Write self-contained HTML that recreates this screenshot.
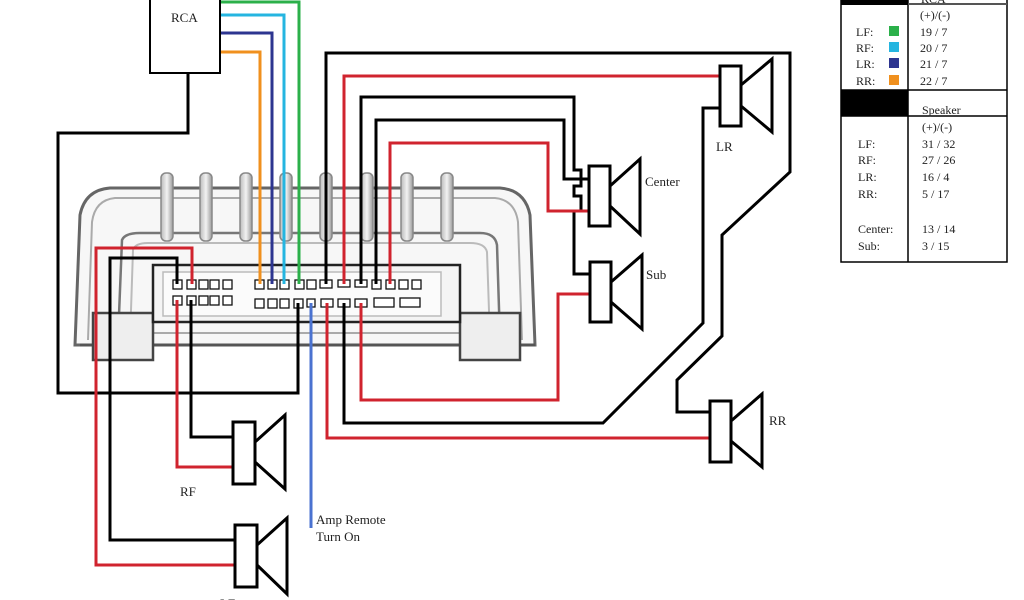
<!DOCTYPE html>
<html><head><meta charset="utf-8"><style>
html,body{margin:0;padding:0;background:#fff;width:1024px;height:600px;overflow:hidden}
svg{display:block}
text{font-family:"Liberation Serif",serif;fill:#222}
</style></head><body>
<svg width="1024" height="600" viewBox="0 0 1024 600" xmlns="http://www.w3.org/2000/svg">
<defs>
<linearGradient id="fin" x1="0" x2="1" y1="0" y2="0">
<stop offset="0" stop-color="#bbb"/><stop offset="0.5" stop-color="#f2f2f2"/><stop offset="1" stop-color="#999"/>
</linearGradient>
</defs>
<!-- amplifier body -->
<g fill="none" stroke-width="2">
<path d="M75,345 L80,215 Q85,190 110,188 L500,188 Q525,190 530,215 L535,345 Z" fill="#f7f7f7" stroke="#666" stroke-width="3"/>
<path d="M88,340 L92,222 Q95,200 115,198 L495,198 Q515,200 518,222 L522,340" stroke="#aaa"/>
<path d="M118,340 L122,240 Q125,233 140,233 L480,233 Q495,233 497,245 L500,340" stroke="#777" stroke-width="2.5"/>
<path d="M130,340 L133,250 Q135,243 148,243 L470,243 Q485,243 487,252 L490,340" stroke="#bbb"/>
<path d="M80,345 L535,345" stroke="#555" stroke-width="3"/>
<path d="M110,333 L505,333" stroke="#aaa"/>
</g>
<g fill="url(#fin)" stroke="#888" stroke-width="1.5">
<rect x="161" y="173" width="12" height="68" rx="5"/>
<rect x="200" y="173" width="12" height="68" rx="5"/>
<rect x="240" y="173" width="12" height="68" rx="5"/>
<rect x="280" y="173" width="12" height="68" rx="5"/>
<rect x="320" y="173" width="12" height="68" rx="5"/>
<rect x="361" y="173" width="12" height="68" rx="5"/>
<rect x="401" y="173" width="12" height="68" rx="5"/>
<rect x="441" y="173" width="12" height="68" rx="5"/>
</g>
<rect x="93" y="313" width="60" height="47" fill="#eee" stroke="#444" stroke-width="2.5"/>
<rect x="460" y="313" width="60" height="47" fill="#eee" stroke="#444" stroke-width="2.5"/>
<rect x="153" y="265" width="307" height="57" fill="#f4f4f4" stroke="#222" stroke-width="2.5"/>
<rect x="163" y="272" width="278" height="44" fill="#fbfbfb" stroke="#bbb" stroke-width="1.5"/>
<!-- connector pins -->
<g fill="#fff" stroke="#111" stroke-width="1.3">
<rect x="173" y="280" width="9" height="9"/><rect x="187" y="280" width="9" height="9"/><rect x="199" y="280" width="9" height="9"/><rect x="210" y="280" width="9" height="9"/><rect x="223" y="280" width="9" height="9"/>
<rect x="173" y="296" width="9" height="9"/><rect x="187" y="296" width="9" height="9"/><rect x="199" y="296" width="9" height="9"/><rect x="210" y="296" width="9" height="9"/><rect x="223" y="296" width="9" height="9"/>
<rect x="255" y="280" width="9" height="9"/><rect x="268" y="280" width="9" height="9"/><rect x="280" y="280" width="9" height="9"/><rect x="295" y="280" width="9" height="9"/><rect x="307" y="280" width="9" height="9"/><rect x="320" y="280" width="12" height="8"/><rect x="338" y="280" width="12" height="7"/><rect x="355" y="280" width="12" height="7"/><rect x="372" y="280" width="9" height="9"/><rect x="386" y="280" width="9" height="9"/><rect x="399" y="280" width="9" height="9"/><rect x="412" y="280" width="9" height="9"/>
<rect x="255" y="299" width="9" height="9"/><rect x="268" y="299" width="9" height="9"/><rect x="280" y="299" width="9" height="9"/><rect x="294" y="299" width="9" height="9"/><rect x="307" y="299" width="8" height="8"/><rect x="321" y="299" width="12" height="8"/><rect x="338" y="299" width="12" height="8"/><rect x="355" y="299" width="12" height="8"/><rect x="374" y="298" width="20" height="9"/><rect x="400" y="298" width="20" height="9"/>
</g>
<!-- wires -->
<g fill="none" stroke-width="3" stroke-linejoin="miter">
<path d="M220,2 L299,2 L299,284" stroke="#2bb04a"/>
<path d="M220,15 L284,15 L284,284" stroke="#25b5e0"/>
<path d="M220,33 L272,33 L272,284" stroke="#2d3590"/>
<path d="M220,52 L260,52 L260,284" stroke="#f0901e"/>
<path d="M188,73 L188,133 L58,133 L58,393 L298,393 L298,303" stroke="#000"/>
<path d="M311,303 L311,528" stroke="#4a72d0"/>
<path d="M327,303 L327,438 L712,438" stroke="#d0232e"/>
<path d="M344,303 L344,423 L603,423 L703,323 L703,108 L720,108" stroke="#000"/>
<path d="M361,303 L361,400 L558,400 L558,294 L590,294" stroke="#d0232e"/>
<path d="M326,284 L326,53 L790,53 L790,172 L722,235 L722,336 L677,380 L677,412 L712,412" stroke="#000"/>
<path d="M344,284 L344,76 L720,76" stroke="#d0232e"/>
<path d="M361,284 L361,97 L574,97 L574,170 L581,170 L581,186 L574,186 L574,196 L581,196 L581,211 L574,211 L574,274 L590,274" stroke="#000"/>
<path d="M376,284 L376,120 L564,120 L564,179 L590,179" stroke="#000"/>
<path d="M390,284 L390,143 L548,143 L548,211 L590,211" stroke="#d0232e"/>
<path d="M192,284 L192,248 L96,248 L96,565 L237,565" stroke="#d0232e"/>
<path d="M177,284 L177,258 L110,258 L110,540 L237,540" stroke="#000"/>
<path d="M177,300 L177,467 L235,467" stroke="#d0232e"/>
<path d="M191,300 L191,437 L235,437" stroke="#000"/>
</g>
<!-- RCA box -->
<rect x="150" y="-2" width="70" height="75" fill="#fff" stroke="#000" stroke-width="2"/>
<text x="171" y="22" font-size="13">RCA</text>
<!-- speakers -->
<g fill="#fff" stroke="#000" stroke-width="3">
<rect x="720" y="66" width="21" height="60"/><path d="M741,85 L772,59 L772,132 L741,106" fill="none"/>
<rect x="589" y="166" width="21" height="60"/><path d="M610,186 L640,159 L640,234 L610,206" fill="none"/>
<rect x="590" y="262" width="21" height="60"/><path d="M611,282 L642,255 L642,329 L611,302" fill="none"/>
<rect x="710" y="401" width="21" height="61"/><path d="M731,421 L762,394 L762,467 L731,441" fill="none"/>
<rect x="233" y="422" width="22" height="62"/><path d="M255,442 L285,415 L285,489 L255,462" fill="none"/>
<rect x="235" y="525" width="22" height="62"/><path d="M257,545 L287,518 L287,594 L257,565" fill="none"/>
</g>
<g font-size="13">
<text x="645" y="186">Center</text>
<text x="646" y="279">Sub</text>
<text x="716" y="151">LR</text>
<text x="769" y="425">RR</text>
<text x="180" y="496">RF</text>
<text x="316" y="524">Amp Remote</text>
<text x="316" y="541">Turn On</text>
<text x="220" y="608">LF</text>
</g>
<!-- table -->
<g stroke="#000" fill="none">
<rect x="841" y="-2" width="166" height="264" stroke-width="1.5"/>
<line x1="908" y1="0" x2="908" y2="262" stroke-width="1.5"/>
<line x1="908" y1="4" x2="1007" y2="4" stroke="#555" stroke-width="2"/>
<line x1="841" y1="90" x2="1007" y2="90" stroke-width="1.5"/>
<line x1="841" y1="116" x2="1007" y2="116" stroke-width="1.5"/>
</g>
<rect x="841" y="0" width="67" height="5" fill="#000"/>
<rect x="841" y="90" width="67" height="26" fill="#000"/>
<text x="921" y="3" font-size="12">RCA</text>
<g font-size="12">
<text x="920" y="19">(+)/(-)</text>
<text x="856" y="36">LF:</text><text x="920" y="36">19 / 7</text>
<text x="856" y="52">RF:</text><text x="920" y="52">20 / 7</text>
<text x="856" y="68">LR:</text><text x="920" y="68">21 / 7</text>
<text x="856" y="85">RR:</text><text x="920" y="85">22 / 7</text>
<text x="922" y="114">Speaker</text>
<text x="922" y="131">(+)/(-)</text>
<text x="858" y="148">LF:</text><text x="922" y="148">31 / 32</text>
<text x="858" y="164">RF:</text><text x="922" y="164">27 / 26</text>
<text x="858" y="181">LR:</text><text x="922" y="181">16 / 4</text>
<text x="858" y="198">RR:</text><text x="922" y="198">5 / 17</text>
<text x="858" y="233">Center:</text><text x="922" y="233">13 / 14</text>
<text x="858" y="250">Sub:</text><text x="922" y="250">3 / 15</text>
</g>
<rect x="889" y="26" width="10" height="10" fill="#2bb04a"/>
<rect x="889" y="42" width="10" height="10" fill="#25b5e0"/>
<rect x="889" y="58" width="10" height="10" fill="#2d3590"/>
<rect x="889" y="75" width="10" height="10" fill="#f0901e"/>
</svg>
</body></html>
